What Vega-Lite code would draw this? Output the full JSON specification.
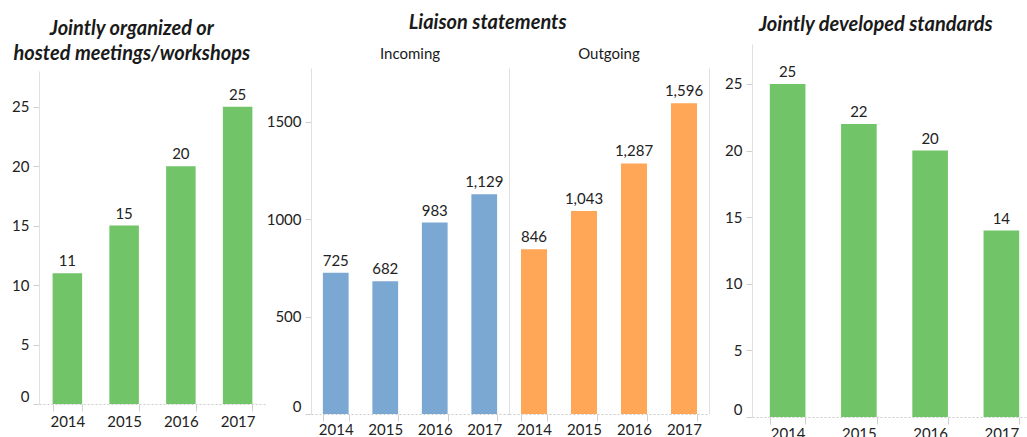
{
  "$schema": "https://vega.github.io/schema/vega-lite/v6.json",
  "background": "white",
  "padding": {"left": 11, "top": 13, "right": 0, "bottom": 0},
  "datasets": {
    "meetings": [
      {"year": "2014", "value": 11},
      {"year": "2015", "value": 15},
      {"year": "2016", "value": 20},
      {"year": "2017", "value": 25}
    ],
    "liaison": [
      {"year": "2014", "dir": "Incoming", "value": 725},
      {"year": "2015", "dir": "Incoming", "value": 682},
      {"year": "2016", "dir": "Incoming", "value": 983},
      {"year": "2017", "dir": "Incoming", "value": 1129},
      {"year": "2014", "dir": "Outgoing", "value": 846},
      {"year": "2015", "dir": "Outgoing", "value": 1043},
      {"year": "2016", "dir": "Outgoing", "value": 1287},
      {"year": "2017", "dir": "Outgoing", "value": 1596}
    ],
    "standards": [
      {"year": "2014", "value": 25},
      {"year": "2015", "value": 22},
      {"year": "2016", "value": 20},
      {"year": "2017", "value": 14}
    ]
  },
  "hconcat": [
    {
      "hconcat": [
        {
          "title": {"text": ["Jointly organized or", "hosted meetings/workshops"], "lineHeight": 25, "offset": -20, "dx": -7, "frame": "bounds"},
          "width": 227,
          "height": 360,
          "data": {"name": "meetings"},
          "encoding": {
            "x": {"field": "year", "type": "ordinal", "scale": {"paddingInner": 0.48, "paddingOuter": 0.24}, "axis": {"title": null}},
            "y": {"field": "value", "type": "quantitative", "scale": {"domain": [0, 28], "range": [360, 27]}, "axis": {"title": null, "values": [0, 5, 10, 15, 20, 25]}}
          },
          "layer": [
            {"mark": {"type": "bar", "color": "#71c467"}},
            {"mark": {"type": "text", "baseline": "alphabetic", "dy": -7}, "encoding": {"text": {"field": "value", "type": "quantitative"}}}
          ]
        },
        {
          "title": {"text": "Liaison statements", "offset": 11, "frame": "bounds"},
          "spacing": 0,
          "hconcat": [
            {
              "title": {"text": "Incoming", "fontSize": 15, "fontWeight": "normal", "fontStyle": "normal", "offset": -18, "frame": "group"},
              "width": 198,
              "height": 370,
              "data": {"name": "liaison"},
              "transform": [{"filter": "datum.dir === 'Incoming'"}],
              "encoding": {
                "x": {"field": "year", "type": "ordinal", "scale": {"paddingInner": 0.48, "paddingOuter": 0.24}, "axis": {"title": null, "labelPadding": 1}},
                "y": {"field": "value", "type": "quantitative", "scale": {"domain": [0, 1777], "range": [370, 24]}, "axis": {"title": null, "values": [0, 500, 1000, 1500], "format": "d"}}
              },
              "layer": [
                {"mark": {"type": "bar", "color": "#7ba7d3"}},
                {"mark": {"type": "text", "baseline": "alphabetic", "dy": -7}, "encoding": {"text": {"field": "value", "type": "quantitative", "format": ","}}}
              ]
            },
            {
              "title": {"text": "Outgoing", "fontSize": 15, "fontWeight": "normal", "fontStyle": "normal", "offset": -18, "frame": "group"},
              "width": 200,
              "height": 370,
              "data": {"name": "liaison"},
              "transform": [{"filter": "datum.dir === 'Outgoing'"}],
              "encoding": {
                "x": {"field": "year", "type": "ordinal", "scale": {"paddingInner": 0.48, "paddingOuter": 0.24}, "axis": {"title": null, "labelPadding": 1}}
              },
              "layer": [
                {
                  "mark": {"type": "bar", "color": "#ffa657"},
                  "encoding": {"y": {"field": "value", "type": "quantitative", "scale": {"domain": [0, 1777], "range": [370, 24]}, "axis": {"title": null, "labels": false, "ticks": false, "values": [0, 500, 1000, 1500]}}}
                },
                {
                  "mark": {"type": "text", "baseline": "alphabetic", "dy": -7},
                  "encoding": {
                    "y": {"field": "value", "type": "quantitative", "scale": {"domain": [0, 1777], "range": [370, 24]}, "axis": {"title": null, "orient": "right", "labels": false, "ticks": false, "values": [0, 500, 1000, 1500]}},
                    "text": {"field": "value", "type": "quantitative", "format": ","}
                  }
                }
              ],
              "resolve": {"axis": {"y": "independent"}}
            }
          ]
        }
      ],
      "spacing": 0
    },
    {
      "title": {"text": "Jointly developed standards", "offset": 9, "dx": -5, "frame": "bounds"},
      "width": 285,
      "height": 373,
      "data": {"name": "standards"},
      "encoding": {
        "x": {"field": "year", "type": "ordinal", "scale": {"paddingInner": 0.5, "paddingOuter": 0.25}, "axis": {"title": null, "labelPadding": 2}},
        "y": {"field": "value", "type": "quantitative", "scale": {"domain": [0, 28]}, "axis": {"title": null, "values": [0, 5, 10, 15, 20, 25]}}
      },
      "layer": [
        {"mark": {"type": "bar", "color": "#71c467"}},
        {"mark": {"type": "text", "baseline": "alphabetic", "dy": -7}, "encoding": {"text": {"field": "value", "type": "quantitative"}}}
      ]
    }
  ],
  "spacing": 15,
  "config": {
    "font": "Lato",
    "view": {"stroke": null},
    "title": {"font": "Lato", "fontSize": 20, "fontWeight": "bold", "fontStyle": "italic", "color": "#1a1a1a", "anchor": "middle"},
    "text": {"font": "Lato", "fontSize": 15, "color": "#222222"},
    "axis": {
      "labelFont": "Lato",
      "labelFontSize": 15,
      "labelColor": "#222222",
      "grid": false,
      "domainColor": "#e0e0e0",
      "tickColor": "#d0d0d0",
      "tickSize": 6,
      "labelPadding": 4
    },
    "axisX": {
      "labelAngle": 0,
      "tickBand": "extent",
      "domainColor": "#cccccc",
      "domainDash": [2, 2],
      "tickSize": 7,
      "labelPadding": 3
    },
    "axisY": {"labelFlush": true}
  }
}
